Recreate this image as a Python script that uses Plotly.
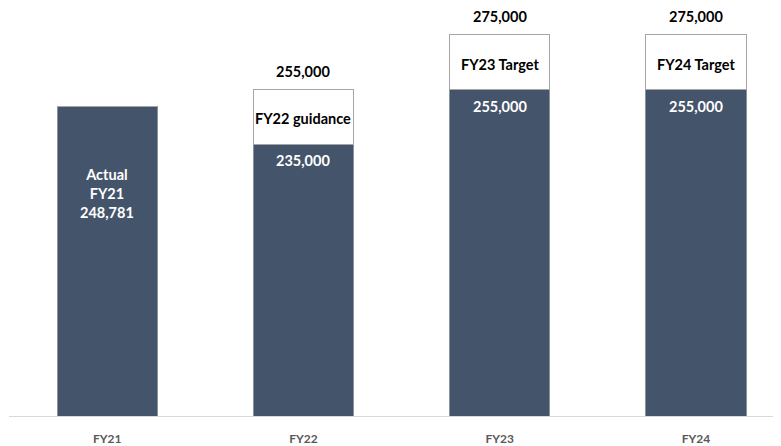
import plotly.graph_objects as go

# chart data
years = ["FY21", "FY22", "FY23", "FY24"]
base_values = [248781, 235000, 255000, 255000]
top_values = [0, 20000, 20000, 20000]
base_labels = ["Actual<br>FY21<br>248,781", "235,000", "255,000", "255,000"]
box_labels = ["", "FY22 guidance", "FY23 Target", "FY24 Target"]

DARK = "#44546A"
FONT = "Lato, 'Open Sans', sans-serif"

xpos = list(range(len(years)))
totals = [b + t for b, t in zip(base_values, top_values)]

fig = go.Figure()
fig.add_trace(go.Bar(
    x=xpos, y=base_values, width=0.51,
    marker=dict(color=DARK, line=dict(color="#8a929c", width=1)),
    hoverinfo="skip",
))
fig.add_trace(go.Bar(
    x=xpos, y=top_values, width=0.51,
    marker=dict(color="white", line=dict(color="#a6a6a6", width=1)),
    hoverinfo="skip",
))

annotations = []
for i in xpos:
    # label inside the dark bar, near its top
    if top_values[i] == 0:
        annotations.append(dict(x=i, y=base_values[i], text=base_labels[i],
                                yanchor="top", yshift=-58, showarrow=False,
                                font=dict(family=FONT, size=14.5, color="white", weight="bold")))
        continue
    annotations.append(dict(x=i, y=base_values[i], text=base_labels[i],
                            yanchor="top", yshift=-6, showarrow=False,
                            font=dict(family=FONT, size=14.5, color="white", weight="bold")))
    # label in the white box
    annotations.append(dict(x=i, y=base_values[i] + top_values[i] / 2, text=box_labels[i],
                            yanchor="middle", yshift=-2, showarrow=False,
                            font=dict(family=FONT, size=14.5, color="black", weight="bold")))
    # total on top
    annotations.append(dict(x=i, y=totals[i], text=f"{totals[i]:,}",
                            yanchor="bottom", yshift=8, showarrow=False,
                            font=dict(family=FONT, size=14.5, color="black", weight="bold")))

# page body has an 8px margin, so the figure is 8px smaller than the window
fig.update_layout(
    barmode="stack",
    width=773, height=438,
    margin=dict(l=1, r=0, t=0, b=25),
    plot_bgcolor="white", paper_bgcolor="white",
    showlegend=False,
    annotations=annotations,
    font=dict(family=FONT),
)
fig.update_xaxes(
    tickvals=xpos, ticktext=years, range=[-0.5, 3.433],
    showline=True, linecolor="#d9d9d9", linewidth=1,
    showgrid=False, zeroline=False, ticks="",
    ticklabelstandoff=12,
    tickfont=dict(family=FONT, size=12, color="#595959", weight="bold"),
)
fig.update_yaxes(visible=False, range=[135500, 284830], showgrid=False)

fig.write_html("out.html")
